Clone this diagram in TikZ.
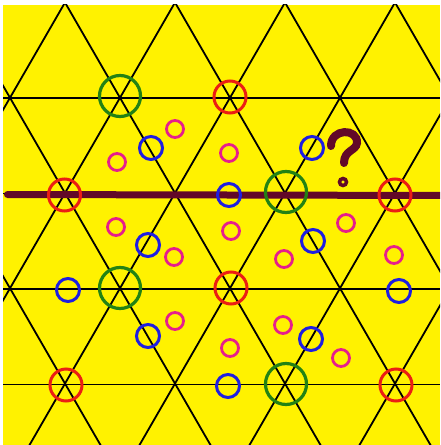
\documentclass[tikz,border=0pt]{standalone}
\definecolor{bgyellow}{RGB}{255,242,0}
\definecolor{qmaroon}{RGB}{98,8,40}
\definecolor{cred}{RGB}{235,30,20}
\definecolor{cgreen}{RGB}{35,130,20}
\definecolor{cblue}{RGB}{30,30,225}
\definecolor{cmag}{RGB}{230,30,140}
\tikzset{
  lat/.style={black, line width=1.8pt},
  greenc/.style={cgreen, line width=3.2pt},
  redc/.style={cred, line width=3pt},
  bluec/.style={cblue, line width=3pt},
  magc/.style={cmag, line width=2.8pt},
  bar/.style={qmaroon, line width=7pt, line cap=round},
  qm/.style={qmaroon, line width=8pt, line cap=round},
}
\begin{document}
\begin{tikzpicture}[x=1pt,y=-1pt]
\useasboundingbox (0,0) rectangle (440,445);
\fill[white] (0,0) rectangle (440,445);
\fill[bgyellow] (3,4.5) rectangle (440,445);
\begin{scope}
  \clip (3,4.5) rectangle (440,445);
  \foreach \i in {-3,...,7} {
    \pgfmathsetmacro\xo{65+110*\i}
    \draw[lat] (\xo-100,-170.7) -- (\xo+300,522.1);
    \draw[lat] (\xo+100,-170.7) -- (\xo-300,522.1);
  }
  \foreach \y in {98,193.5,289,384.5} \draw[lat] (3,\y) -- (440,\y);
  \draw[bar] (7.5,194.5) -- (450,195.5);
\end{scope}
% green
\foreach \p in {(120,96),(286,192),(120,288),(286,384)} \draw[greenc] \p circle[radius=20.5];
% red
\foreach \p in {(64.5,195),(230,97),(395,195),(231,288),(66,385),(396,385)} \draw[redc] \p circle[radius=16];
% blue
\foreach \p in {(151,148),(312,148),(229,195),(148,245),(313,241),(68,290),(399,291),(148,336),(311,339),(228,386)} \draw[bluec] \p circle[radius=11.5];
% magenta
\foreach \p in {(175,129),(117,162),(229,153),(116,227),(174,257),(231,231),(346,223),(284,259),(394,255),(175,321),(230,348),(283,325),(341,358)} \draw[magc] \p circle[radius=8.5];
% question mark
\draw[qm] (331,146) .. controls (331,128) and (358,128) .. (357,143) .. controls (356,151) and (344,150) .. (344,163);
\draw[qmaroon, line width=3.5pt] (343,182) circle[radius=3.5];
\end{tikzpicture}
\end{document}
